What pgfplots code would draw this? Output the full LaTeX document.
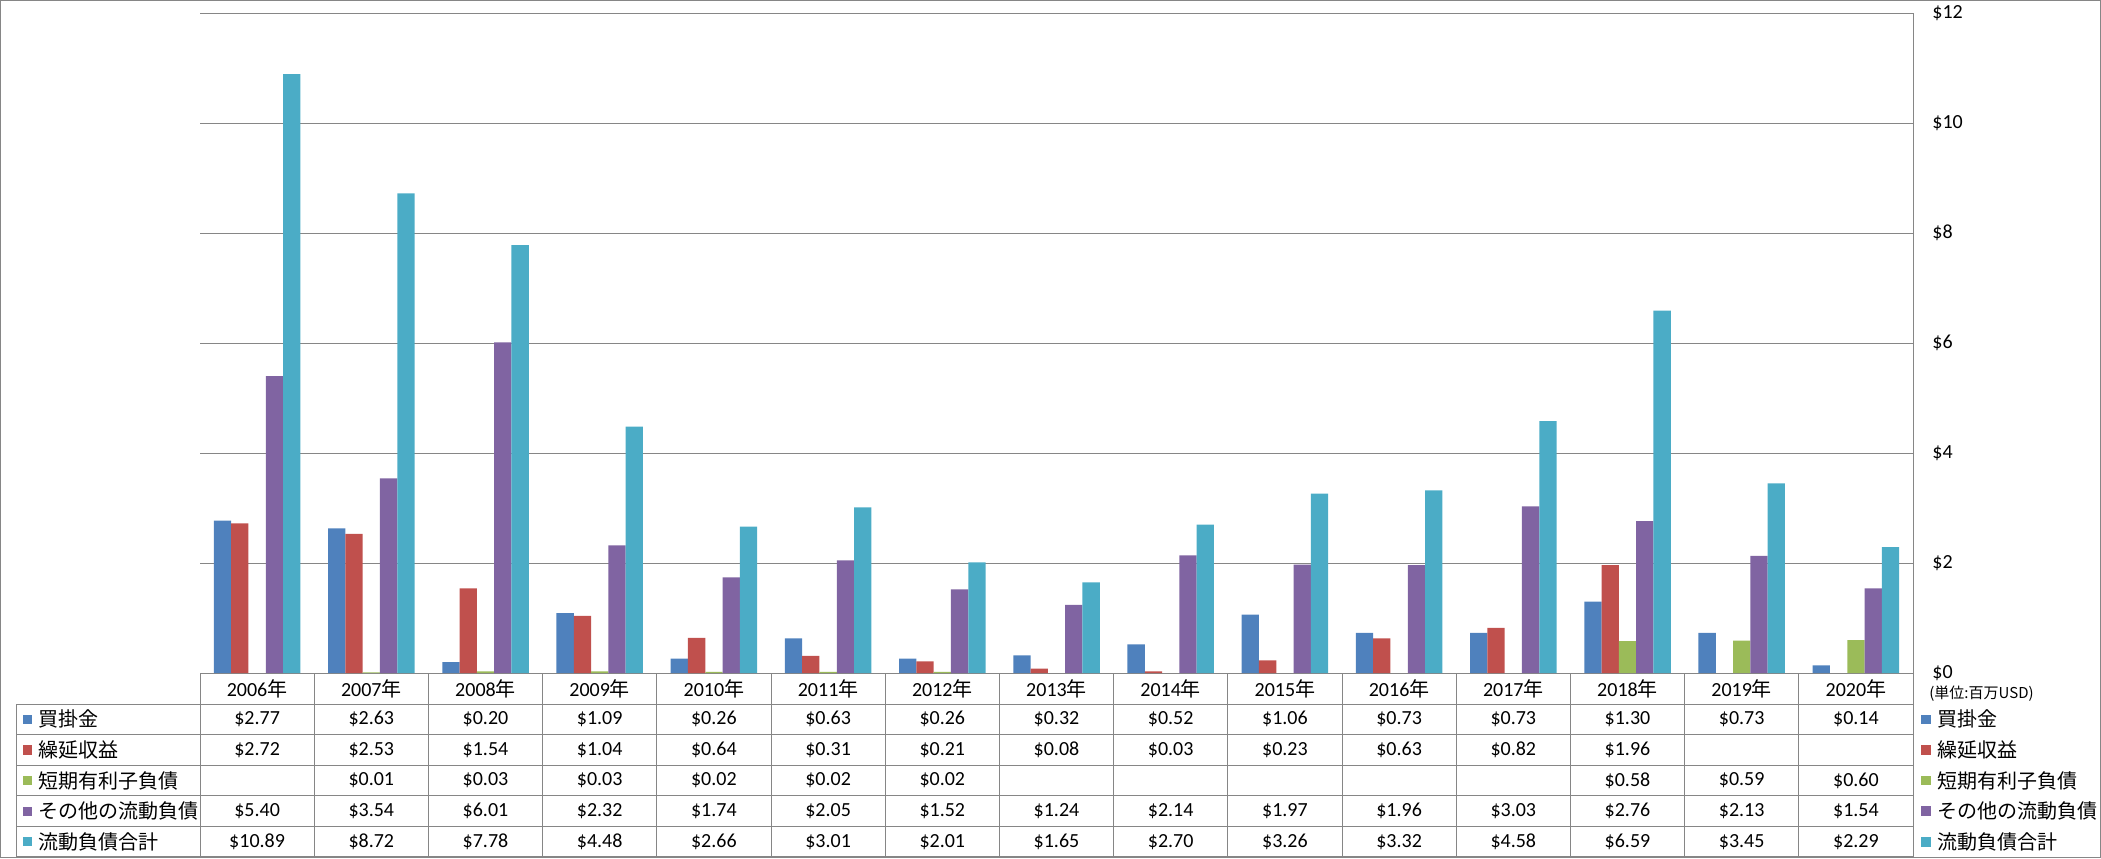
\documentclass[border=0pt]{standalone}
\usepackage{pgfplots}
\pgfplotsset{compat=1.18}
\usepackage{pgfplotstable}
\usepackage{fontspec}
\setmainfont{Carlito}
\newfontfamily\jp{Noto Sans CJK JP}
\definecolor{cA}{HTML}{4F81BD}
\definecolor{cB}{HTML}{C0504D}
\definecolor{cC}{HTML}{9BBB59}
\definecolor{cD}{HTML}{8064A2}
\definecolor{cE}{HTML}{4BACC6}
\definecolor{gridc}{RGB}{134,134,134}

\pgfplotstableread{
x A B C D E
0 2.77 2.72 nan 5.40 10.89
1 2.63 2.53 0.01 3.54 8.72
2 0.20 1.54 0.03 6.01 7.78
3 1.09 1.04 0.03 2.32 4.48
4 0.26 0.64 0.02 1.74 2.66
5 0.63 0.31 0.02 2.05 3.01
6 0.26 0.21 0.02 1.52 2.01
7 0.32 0.08 nan 1.24 1.65
8 0.52 0.03 nan 2.14 2.70
9 1.06 0.23 nan 1.97 3.26
10 0.73 0.63 nan 1.96 3.32
11 0.73 0.82 nan 3.03 4.58
12 1.30 1.96 0.58 2.76 6.59
13 0.73 nan 0.59 2.13 3.45
14 0.14 nan 0.60 1.54 2.29
}\datatable

\def\nanstr{nan}

\begin{document}
\begin{tikzpicture}
\path[use as bounding box] (0pt,0pt) rectangle (1050.5pt,-429pt);
\begin{axis}[
  at={(100pt,-336.5pt)}, anchor=south west,
  scale only axis, width=856.5pt, height=330pt,
  xmin=-0.5, xmax=14.5, ymin=0, ymax=12,
  axis line style={draw=none},
  xtick=\empty,
  ytick={0,2,4,6,8,10,12},
  yticklabels={\$0,\$2,\$4,\$6,\$8,\$10,\$12},
  yticklabel pos=right,
  yticklabel style={anchor=west, inner sep=0pt, xshift=9.5pt, font=\fontsize{10}{12}\selectfont},
  major tick length=0pt,
  ymajorgrids,
  grid style={gridc, line width=0.5pt},
]
\addplot[ybar, bar width=0.1515, bar shift=-0.303, fill=cA, draw=none] table[x=x,y=A]{\datatable};
\addplot[ybar, bar width=0.1515, bar shift=-0.1515, fill=cB, draw=none] table[x=x,y=B]{\datatable};
\addplot[ybar, bar width=0.1515, bar shift=0, fill=cC, draw=none] table[x=x,y=C]{\datatable};
\addplot[ybar, bar width=0.1515, bar shift=0.1515, fill=cD, draw=none] table[x=x,y=D]{\datatable};
\addplot[ybar, bar width=0.1515, bar shift=0.303, fill=cE, draw=none] table[x=x,y=E]{\datatable};
\end{axis}
\begin{scope}[x=0.5pt, y=-0.5pt, font=\fontsize{10}{12}\selectfont]
  % frame lines
  \draw[gridc, line width=0.5pt] (1913,13) -- (1913,856.5);
  \foreach \k in {0,...,14} \draw[gridc, line width=0.5pt] ({200+114.2*\k},673) -- ({200+114.2*\k},856.5);
  \foreach \yy in {704,734.6,765.2,795.8,826.4,856.5} \draw[gridc, line width=0.5pt] (16.7,\yy) -- (1913,\yy);
  \draw[gridc, line width=0.5pt] (16.7,704) -- (16.7,856.5);
  \draw[gridc, line width=0.5pt] (0.5,0.5) rectangle (2100.5,857.5);
  % header
  \foreach \yr [count=\i from 0] in {2006,...,2020}
    \node[inner sep=0pt] at ({257.1+114.2*\i},688.5) {\yr{\jp 年}};
  % values
  \foreach \col/\rowy in {A/719.3, B/749.9, C/780.5, D/811.1, E/841.7} {
    \foreach \i in {0,...,14} {
      \pgfplotstablegetelem{\i}{\col}\of\datatable
      \let\val\pgfplotsretval
      \ifx\val\nanstr\else
        \node[inner sep=0pt] at ({257.1+114.2*\i},\rowy) {\$\val};
      \fi
    }
  }
  % row labels and right legend
  \foreach \c/\name/\rowy in {cA/買掛金/719.3, cB/繰延収益/749.9, cC/短期有利子負債/780.5, cD/その他の流動負債/811.1, cE/流動負債合計/841.7} {
    \fill[\c] (22.7,{\rowy-4.6}) rectangle (32,{\rowy+4.6});
    \node[anchor=west, inner sep=0pt] at (38,\rowy) {\jp \name};
    \fill[\c] (1920.5,{\rowy-4.8}) rectangle (1930.5,{\rowy+4.8});
    \node[anchor=west, inner sep=0pt] at (1937,\rowy) {\jp \name};
  }
  \node[anchor=west, inner sep=0pt, font=\fontsize{7.5}{9}\selectfont] at (1929,694) {\jp (単位:百万USD)};
\end{scope}
\end{tikzpicture}
\end{document}
